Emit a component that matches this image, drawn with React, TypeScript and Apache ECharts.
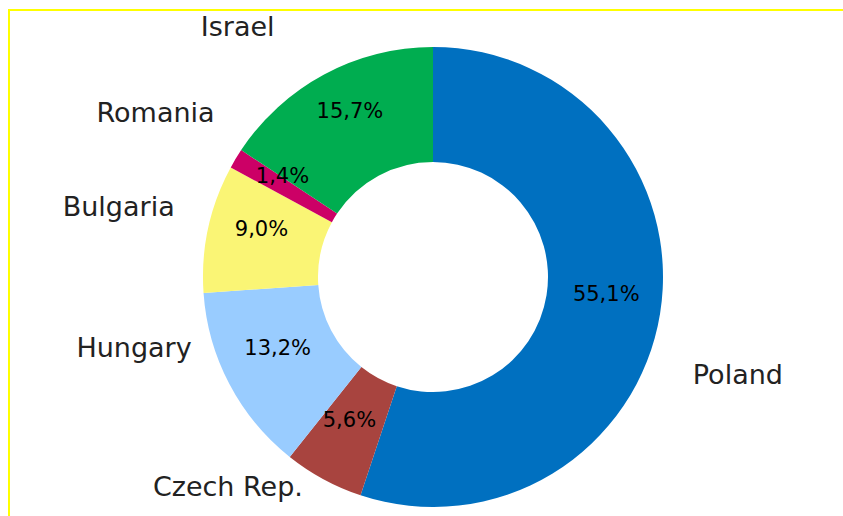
import React, { useEffect, useRef } from "react";
import * as echarts from "echarts";

const countries = ["Poland", "Czech Rep.", "Hungary", "Bulgaria", "Romania", "Israel"];
const shares = [55.1, 5.6, 13.2, 9.0, 1.4, 15.7];
const colors = ["#0070C0", "#A8443F", "#99CCFF", "#FAF575", "#CC0066", "#00AD50"];
// label nudges (dx, dy) to mimic the original's best-fit label placement
const labelNudgeX = [-2, 4, -5, 1, 11, -25];
const labelNudgeY = [58, -10, -46, -17, -36, -30];

export default function App() {
  const ref = useRef<HTMLDivElement>(null);
  useEffect(() => {
    if (!ref.current) return;
    const chart = echarts.init(ref.current, null, { renderer: "svg" });
    const data = countries.map((name, i) => ({
      name,
      value: shares[i],
      itemStyle: { color: colors[i] },
    }));
    chart.setOption({
      animation: false,
      backgroundColor: "#ffffff",
      graphic: [
        {
          type: "rect",
          shape: { x: 9, y: 10, width: 900, height: 600 },
          style: { fill: "none", stroke: "#FFFF00", lineWidth: 2 },
          silent: true,
        },
      ],
      series: [
        {
          type: "pie",
          center: [433, 277],
          radius: [115, 230],
          startAngle: 90,
          clockwise: true,
          avoidLabelOverlap: false,
          silent: true,
          data,
          label: {
            show: true,
            position: "inside",
            formatter: (p: any) => p.value.toFixed(1).replace(".", ",") + "%",
            color: "#000",
            fontFamily: "DejaVu Sans, sans-serif",
            fontSize: 21,
          },
          labelLine: { show: false },
          labelLayout: () => ({ dy: -11 }),
        },
        {
          type: "pie",
          center: [433, 277],
          radius: [115, 230],
          startAngle: 90,
          clockwise: true,
          avoidLabelOverlap: false,
          silent: true,
          z: 1,
          data: countries.map((name, i) => ({
            name,
            value: shares[i],
            itemStyle: { color: "rgba(0,0,0,0)" },
          })),
          label: {
            show: true,
            position: "outside",
            formatter: "{b}",
            color: "#222",
            fontFamily: "DejaVu Sans, sans-serif",
            fontSize: 27,
            distanceToLabelLine: 5,
          },
          labelLine: { show: false, length: 20, length2: 10 },
          labelLayout: (p: any) => ({
            dx: labelNudgeX[p.dataIndex],
            dy: labelNudgeY[p.dataIndex],
          }),
        },
      ],
    });
    return () => chart.dispose();
  }, []);
  return (
    <div
      ref={ref}
      style={{ position: "fixed", left: 0, top: 0, width: 843, height: 516 }}
    />
  );
}
